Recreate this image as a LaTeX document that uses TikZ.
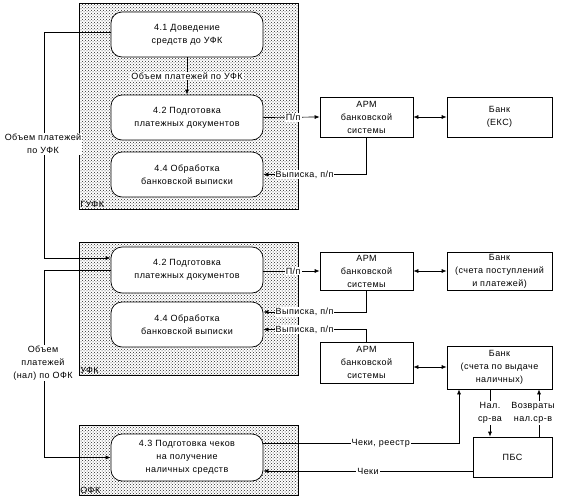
\documentclass[tikz,border=0pt]{standalone}
\usepackage{fontspec}
\setmainfont[LetterSpace=5]{Liberation Sans}
\usetikzlibrary{patterns,arrows.meta,calc}
\begin{document}
\begin{tikzpicture}[x=1pt,y=-1pt,
  every node/.style={font=\fontsize{9}{13}\selectfont, inner sep=1pt},
  frame/.style={draw, line width=0.8pt, pattern=crosshatch dots, pattern color=black!85, inner sep=0pt},
  proc/.style={draw, fill=white, rounded corners=11pt, line width=0.7pt, minimum width=152pt, align=center, inner sep=0pt},
  ext/.style={draw, fill=white, line width=0.7pt, align=center, inner sep=0pt},
  lbl/.style={fill=white, align=center, inner sep=1pt},
  flow/.style={line width=0.7pt},
  arr/.style={flow, -{Latex[length=5pt,width=4pt]}},
  barr/.style={flow, {Latex[length=5pt,width=4pt]}-{Latex[length=5pt,width=4pt]}}
]
\useasboundingbox (0,0) rectangle (565,498);
% frames
\node[frame, minimum width=219pt, minimum height=206pt] (gufk) at (188.5,106) {};
\node[frame, minimum width=219pt, minimum height=133pt] (ufk) at (188.5,308.5) {};
\node[frame, minimum width=219pt, minimum height=70pt] (ofk) at (188.5,460) {};
\node[anchor=south west, inner sep=1.5pt] (lg) at (gufk.south west) {ГУФК};
\node[anchor=south west, inner sep=1.5pt] (lu) at (ufk.south west) {УФК};
\node[anchor=south west, inner sep=1.5pt] (lo) at (ofk.south west) {ОФК};
% process boxes
\node[proc, minimum height=45pt] (p41) at (187,34.5) {4.1 Доведение\\средств до УФК};
\node[proc, minimum height=45pt] (p42) at (187,117.5) {4.2 Подготовка\\платежных документов};
\node[proc, minimum height=45pt] (p44) at (187,174.5) {4.4 Обработка\\банковской выписки};
\node[proc, minimum height=46pt] (p42m) at (187,270) {4.2 Подготовка\\платежных документов};
\node[proc, minimum height=45pt] (p44m) at (187,324.5) {4.4 Обработка\\банковской выписки};
\node[proc, minimum height=47pt] (p43) at (187,457.5) {4.3 Подготовка чеков\\на получение\\наличных средств};
% external boxes
\node[ext, minimum width=93pt, minimum height=40pt] (arm1) at (366.5,117) {АРМ\\банковской\\системы};
\node[ext, minimum width=105pt, minimum height=40pt] (bank1) at (499.5,117) {Банк\\(ЕКС)};
\node[ext, minimum width=93pt, minimum height=38pt] (arm2) at (366.5,271) {АРМ\\банковской\\системы};
\node[ext, minimum width=105pt, minimum height=38pt] (bank2) at (499.5,271) {Банк\\(счета поступлений\\и платежей)};
\node[ext, minimum width=93pt, minimum height=41pt] (arm3) at (366.5,362.5) {АРМ\\банковской\\системы};
\node[ext, minimum width=105pt, minimum height=43pt] (bank3) at (499.5,367.5) {Банк\\(счета по выдаче\\наличных)};
\node[ext, minimum width=79pt, minimum height=40pt] (pbs) at (512.5,457) {ПБС};
% connectors top
\draw[arr] (p41.south) -- node[lbl, pos=0.5] (l1) {Объем платежей по УФК} (p42.north);
\draw[arr] ($(p41.west)+(0,-2.5)$) -| ($(p42m.west)+(-66,-12)$) -- ($(p42m.west)+(0,-12)$);
\node[lbl] (l2) at (43,144) {Объем платежей\\по УФК};
\draw[arr] (p42.east) -- node[lbl, pos=0.53] (l3) {П/п} (arm1.west);
\draw[barr] (arm1.east) -- (bank1.west);
\draw[arr] (arm1.south) |- node[lbl, pos=0.8] (l4) {Выписка, п/п} (p44.east);
% middle
\draw[flow] (p42m.west) -| ($(p43.west)+(-66,0)$);
\draw[arr] ($(p43.west)+(-66,0)$) -- (p43.west);
\node[lbl] (l5) at (43,363) {Объем\\платежей\\(нал) по ОФК};
\draw[arr] ($(p42m.east)+(0,1)$) -- node[lbl, pos=0.53] (l6) {П/п} (arm2.west);
\draw[barr] (arm2.east) -- (bank2.west);
\draw[arr] (arm2.south) |- node[lbl, pos=0.8] (l7) {Выписка, п/п} ($(p44m.east)+(0,-12.5)$);
\draw[arr] (arm3.north) |- node[lbl, pos=0.8] (l8) {Выписка, п/п} ($(p44m.east)+(0,5)$);
\draw[barr] ($(arm3.east)+(0,4.5)$) -- ($(bank3.west)+(0,-0.5)$);
% bottom
\draw[arr] ($(p43.east)+(0,-14.5)$) -| node[lbl, pos=0.3] (l9) {Чеки, реестр} ($(bank3.south)+(-40.5,0)$);
\draw[arr] ($(bank3.south)+(-9.5,0)$) -- node[lbl] (l10) {Нал.\\ср-ва} ($(pbs.north)+(-22.5,0)$);
\draw[arr] ($(pbs.north)+(26.5,0)$) -- node[lbl, xshift=-6pt] (l11) {Возвраты\\нал.ср-в} ($(bank3.south)+(39.5,0)$);
\draw[arr] ($(pbs.west)+(0,14)$) -- node[lbl, pos=0.5] (l12) {Чеки} ($(p43.east)+(0,13.5)$);
\end{tikzpicture}
\end{document}
